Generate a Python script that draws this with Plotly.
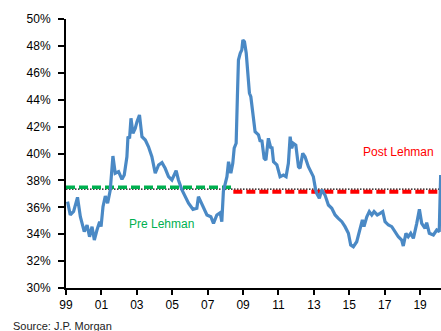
import plotly.graph_objects as go

# Blue series: decimal year and percentage value
years = [1999.09, 1999.24, 1999.43, 1999.65, 1999.81, 2000.03, 2000.19, 2000.33, 2000.47, 2000.60,
         2000.75, 2000.90, 2000.98, 2001.09, 2001.22, 2001.35, 2001.50, 2001.65, 2001.78, 2001.97,
         2002.16, 2002.29, 2002.44, 2002.50, 2002.59, 2002.67, 2002.78, 2002.91, 2003.01, 2003.15,
         2003.29, 2003.48, 2003.66, 2003.85, 2004.04, 2004.23, 2004.42, 2004.60, 2004.79, 2004.98,
         2005.22, 2005.35, 2005.55, 2005.73, 2005.92, 2006.17, 2006.39, 2006.48, 2006.67, 2006.96,
         2007.18, 2007.33, 2007.52, 2007.71, 2007.80, 2007.89, 2008.09, 2008.18, 2008.31, 2008.42,
         2008.50, 2008.61, 2008.68, 2008.74, 2008.84, 2008.93, 2008.99, 2009.08, 2009.18, 2009.25,
         2009.36, 2009.44, 2009.55, 2009.68, 2009.87, 2009.97, 2010.06, 2010.19, 2010.29, 2010.43,
         2010.57, 2010.63, 2010.72, 2010.91, 2011.09, 2011.28, 2011.43, 2011.56, 2011.66, 2011.75,
         2011.84, 2011.98, 2012.13, 2012.22, 2012.37, 2012.50, 2012.69, 2012.88, 2012.97, 2013.10,
         2013.16, 2013.31, 2013.45, 2013.63, 2013.82, 2014.01, 2014.20, 2014.38, 2014.58, 2014.76,
         2014.95, 2015.08, 2015.23, 2015.42, 2015.61, 2015.74, 2015.83, 2015.99, 2016.13, 2016.27,
         2016.40, 2016.58, 2016.74, 2016.89, 2017.02, 2017.21, 2017.40, 2017.58, 2017.77, 2017.96,
         2018.05, 2018.20, 2018.33, 2018.47, 2018.62, 2018.81, 2018.96, 2019.09, 2019.28, 2019.37,
         2019.52, 2019.75, 2019.94, 2020.08, 2020.16]
values = [36.42, 35.43, 35.70, 36.74, 35.30, 34.19, 34.68, 33.81, 34.56, 33.57,
          34.31, 34.93, 34.56, 36.05, 36.84, 36.30, 37.29, 39.81, 38.53, 38.65,
          38.08, 38.40, 39.76, 41.25, 41.13, 42.62, 41.50, 41.87, 42.37, 42.86,
          41.25, 41.00, 40.50, 39.76, 38.53, 39.15, 39.32, 38.90, 38.28, 38.03,
          38.72, 38.03, 37.29, 36.79, 36.30, 35.85, 35.93, 36.79, 36.30, 35.43,
          35.30, 34.81, 35.43, 35.60, 34.93, 37.20, 38.28, 39.39, 38.53, 39.27,
          40.40, 40.76, 44.22, 46.95, 47.45, 47.70, 48.44, 48.31, 47.45, 45.96,
          44.48, 44.22, 42.99, 41.62, 41.38, 40.88, 41.00, 39.64, 39.52, 41.13,
          40.39, 40.50, 39.39, 39.15, 38.28, 38.40, 38.28, 39.27, 41.25, 40.39,
          40.76, 40.63, 39.02, 38.90, 40.01, 39.76, 39.02, 38.53, 38.28, 37.30,
          37.04, 36.67, 37.30, 36.91, 36.17, 35.93, 35.43, 35.18, 34.93, 34.56,
          34.07, 33.20, 33.07, 33.44, 34.31, 35.06, 34.56, 35.30, 35.68, 35.43,
          35.68, 35.43, 35.55, 35.68, 34.93, 34.68, 34.56, 34.19, 33.81, 33.57,
          33.12, 34.07, 33.81, 34.07, 33.69, 34.81, 35.85, 34.81, 34.44, 34.86,
          34.07, 33.94, 34.31, 34.19, 38.40]

# Averages
start_year = 1999.0
end_year = 2020.18
lehman_year = 2008.45
pre_avg = 37.50
post_avg = 37.15
full_avg = 37.35

# Axis ticks
x_tickvals = [1999, 2001, 2003, 2005, 2007, 2009, 2011, 2013, 2015, 2017, 2019]
x_ticktext = ["99", "01", "03", "05", "07", "09", "11", "13", "15", "17", "19"]
y_tickvals = [30, 32, 34, 36, 38, 40, 42, 44, 46, 48, 50]
y_ticktext = ["30%", "32%", "34%", "36%", "38%", "40%", "42%", "44%", "46%", "48%", "50%"]

BLUE = "#4A89C5"
GREEN = "#00B050"
RED = "#FF0000"
FONT = "Liberation Sans, Arial, sans-serif"

fig = go.Figure()
fig.add_trace(go.Scatter(x=[start_year, end_year], y=[full_avg, full_avg], mode="lines",
                         line=dict(color="black", width=1.2, dash="1.5px,1.5px"),
                         hoverinfo="skip"))
fig.add_trace(go.Scatter(x=[start_year, lehman_year], y=[pre_avg, pre_avg], mode="lines",
                         line=dict(color=GREEN, width=3.5, dash="9px,4px"),
                         hoverinfo="skip"))
fig.add_trace(go.Scatter(x=[lehman_year, end_year], y=[post_avg, post_avg], mode="lines",
                         line=dict(color=RED, width=4, dash="9px,4px"),
                         hoverinfo="skip"))
fig.add_trace(go.Scatter(x=years, y=values, mode="lines",
                         line=dict(color=BLUE, width=3.2)))

fig.add_annotation(x=2004.42, y=34.74, text="Pre Lehman", showarrow=False,
                   font=dict(family=FONT, size=12, color=GREEN))
fig.add_annotation(x=2017.77, y=40.13, text="Post Lehman", showarrow=False,
                   font=dict(family=FONT, size=12, color=RED))
fig.add_annotation(xref="paper", yref="paper", x=-0.1467, y=-0.140, xanchor="left",
                   yanchor="middle", text="Source: J.P. Morgan", showarrow=False,
                   font=dict(family=FONT, size=11, color="#222222"))

fig.update_layout(
    width=441, height=331,
    margin=dict(l=66, r=0, t=19, b=43),
    paper_bgcolor="white", plot_bgcolor="white",
    showlegend=False,
    font=dict(family=FONT, size=12, color="black"),
    xaxis=dict(range=[start_year, end_year], tickvals=x_tickvals, ticktext=x_ticktext,
               showgrid=False, zeroline=False, showline=True, linecolor="black", linewidth=2,
               ticks="outside", ticklen=5, tickwidth=1.5, tickcolor="black",
               tickfont=dict(family=FONT, size=12, color="black")),
    yaxis=dict(range=[30, 50], tickvals=y_tickvals, ticktext=y_ticktext,
               showgrid=False, zeroline=False, showline=True, linecolor="black", linewidth=2,
               ticks="outside", ticklen=6, tickwidth=1.5, tickcolor="black",
               ticklabelstandoff=5,
               tickfont=dict(family=FONT, size=12, color="black")),
)

fig.write_html("out.html")
